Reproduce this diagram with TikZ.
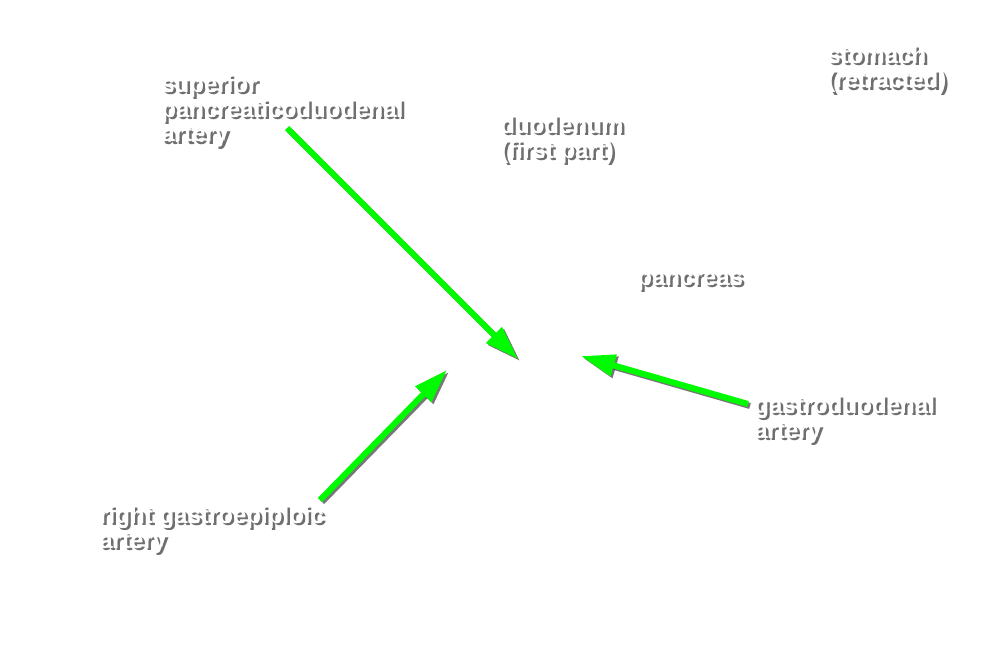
\documentclass[tikz,border=0pt]{standalone}
\usepackage{fontspec}
\setmainfont{Liberation Sans}
\usetikzlibrary{arrows.meta}
\definecolor{vivid}{RGB}{0,250,0}
\begin{document}
\begin{tikzpicture}[
    lbl/.style={anchor=base west,align=left,inner sep=0pt,text=white,
        font=\bfseries\fontsize{13.7}{14.2}\selectfont},
    lblshadow/.style={lbl,text=black!70,opacity=0.8,xshift=0.05cm,yshift=-0.05cm},
    art/.style={draw=vivid,line width=0.12cm,-{Triangle[length=0.68cm,width=0.42cm]}},
    artshadow/.style={art,draw=black!75,opacity=0.7,transform canvas={shift={(0.04,-0.04)}}}]
        \useasboundingbox[fill=white] (0,0) rectangle (20,-13.28);

        %%%%%%%%%% Labels %%%%%%%%%%
        \node (SPDAs) at (3.22,-2.84) [lblshadow] {superior\\pancreaticoduodenal\\artery};
        \node (SPDA) at (3.22,-2.84) [lbl] {superior\\pancreaticoduodenal\\artery};
        \node (DUODs) at (10.0,-3.16) [lblshadow] {duodenum\\(first part)};
        \node (DUOD) at (10.0,-3.16) [lbl] {duodenum\\(first part)};
        \node (STOMs) at (16.54,-1.76) [lblshadow] {stomach\\(retracted)};
        \node (STOM) at (16.54,-1.76) [lbl] {stomach\\(retracted)};
        \node (PANCs) at (12.74,-5.7) [lblshadow] {pancreas};
        \node (PANC) at (12.74,-5.7) [lbl] {pancreas};
        \node (GDAs) at (15.08,-8.76) [lblshadow] {gastroduodenal\\artery};
        \node (GDA) at (15.08,-8.76) [lbl] {gastroduodenal\\artery};
        \node (RGEAs) at (1.98,-10.96) [lblshadow] {right gastroepiploic\\artery};
        \node (RGEA) at (1.98,-10.96) [lbl] {right gastroepiploic\\artery};

        %%%%%%%%% Arrows %%%%%%%%%
        \coordinate (SPDAtail) at (5.74,-2.56);
        \coordinate (SPDAtip) at (10.36,-7.18);
        \coordinate (RGEAtail) at (6.40,-10.0);
        \coordinate (RGEAtip) at (8.94,-7.40);
        \coordinate (GDAtail) at (14.96,-8.08);
        \coordinate (GDAtip) at (11.62,-7.12);
        \draw[artshadow] (SPDAtail) -- (SPDAtip);
        \draw[artshadow] (RGEAtail) -- (RGEAtip);
        \draw[artshadow] (GDAtail) -- (GDAtip);
        \draw[art] (SPDAtail) -- (SPDAtip);
        \draw[art] (RGEAtail) -- (RGEAtip);
        \draw[art] (GDAtail) -- (GDAtip);
    \end{tikzpicture}
\end{document}
